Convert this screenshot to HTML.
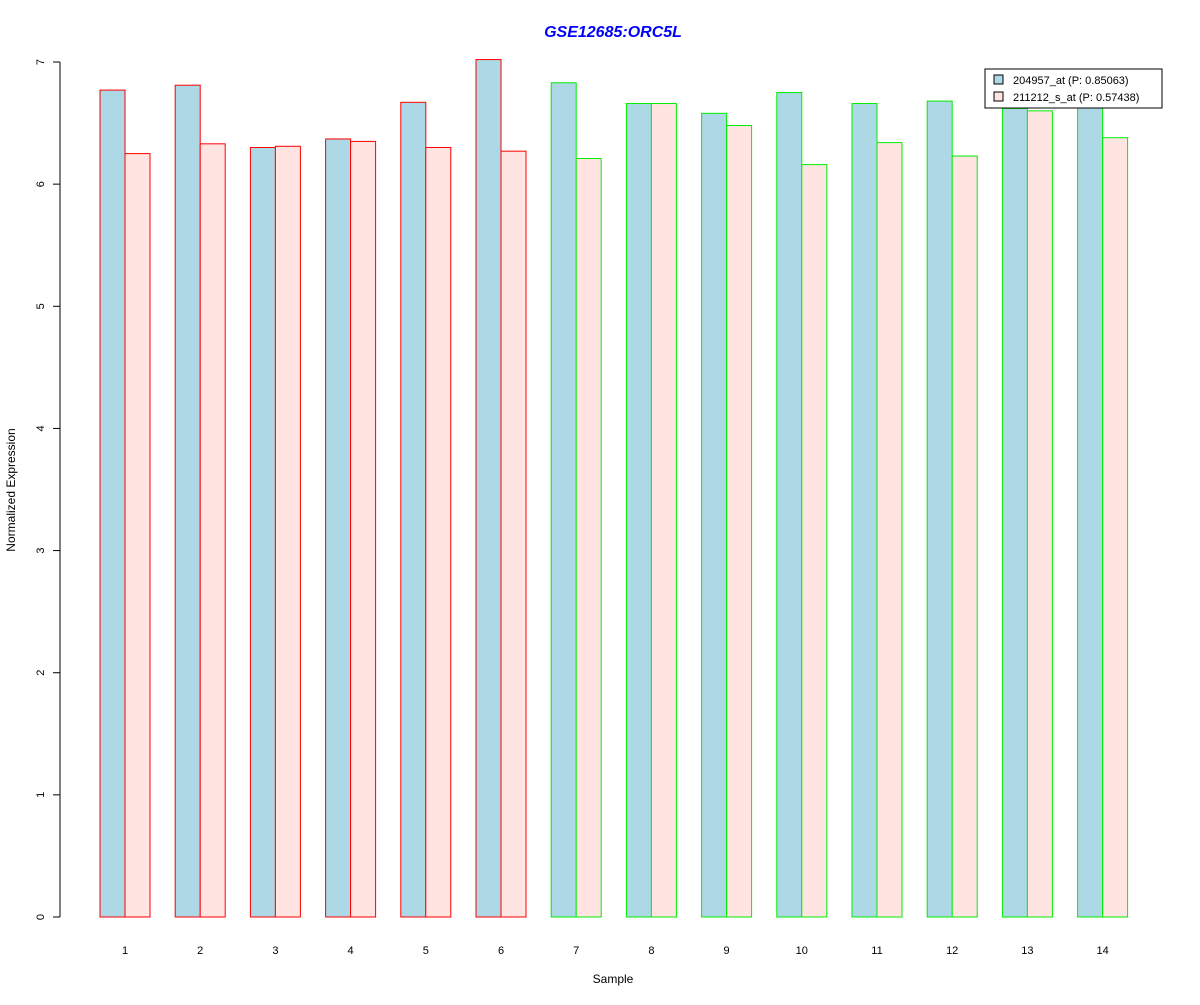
<!DOCTYPE html>
<html><head><meta charset="utf-8"><style>
body{margin:0;background:#fff;}
svg text{font-family:"Liberation Sans",Arial,sans-serif;}
</style></head><body>
<svg id="chart" width="1200" height="1000" xmlns="http://www.w3.org/2000/svg">
<rect width="1200" height="1000" fill="#fff"/>
<text x="613" y="37" text-anchor="middle" font-size="16" font-weight="bold" font-style="italic" fill="#0000ff">GSE12685:ORC5L</text>
<g id="bars"></g>
<g id="yaxis"></g>
<g id="xlabels"></g>
<text transform="translate(15,490) rotate(-90)" text-anchor="middle" font-size="12">Normalized Expression</text>
<text x="613" y="983" text-anchor="middle" font-size="12">Sample</text>
<g>
<rect x="985" y="69" width="177" height="39" fill="#fff" stroke="#000" stroke-width="1"/>
<rect x="994" y="75" width="9" height="9" fill="#add8e6" stroke="#000"/>
<text x="1013" y="84" font-size="11">204957_at (P: 0.85063)</text>
<rect x="994" y="92" width="9" height="9" fill="#ffe4e1" stroke="#000"/>
<text x="1013" y="101" font-size="11">211212_s_at (P: 0.57438)</text>
</g>
</svg>
<script>
const samples=["1","2","3","4","5","6","7","8","9","10","11","12","13","14"];
const probe1=[6.77,6.81,6.30,6.37,6.67,7.02,6.83,6.66,6.58,6.75,6.66,6.68,6.62,6.65];
const probe2=[6.25,6.33,6.31,6.35,6.30,6.27,6.21,6.66,6.48,6.16,6.34,6.23,6.60,6.38];
const groups=["red","red","red","red","red","red","lime","lime","lime","lime","lime","lime","lime","lime"];
const yTicks=[0,1,2,3,4,5,6,7];
const NS="http://www.w3.org/2000/svg";
const y0=917,y7=62;
function y(v){return y0-(y0-y7)*v/7;}
function x(i){return 100+i*75.2;}
const bw=25;
const bars=document.getElementById('bars');
function mk(tag,attrs,parent){const e=document.createElementNS(NS,tag);for(const k in attrs)e.setAttribute(k,attrs[k]);parent.appendChild(e);return e;}
samples.forEach((s,i)=>{
  const c=groups[i]==="red"?"#ff0000":"#00ee00";
  const a=mk('rect',{x:x(i),y:y(probe1[i]),width:bw,height:y(0)-y(probe1[i]),fill:"#add8e6",stroke:c},bars);
  
  
  const b=mk('rect',{x:x(i)+bw,y:y(probe2[i]),width:bw,height:y(0)-y(probe2[i]),fill:"#ffe4e1",stroke:c},bars);
  
  
  const t=mk('text',{x:x(i)+bw,y:954,'text-anchor':'middle','font-size':11},document.getElementById('xlabels'));
  t.textContent=s;
  
  
});
const ya=document.getElementById('yaxis');
const ax=mk('line',{x1:60,x2:60,y1:y(0),y2:y(7),stroke:'#000'},ya);


yTicks.forEach(v=>{
  const l=mk('line',{x1:53,x2:60,y1:y(v),y2:y(v),stroke:'#000'},ya);
  
  
  const t=mk('text',{transform:`translate(44,${y(v)}) rotate(-90)`,'text-anchor':'middle','font-size':11},ya);
  t.textContent=v;
  
  
});
</script>
</body></html>
